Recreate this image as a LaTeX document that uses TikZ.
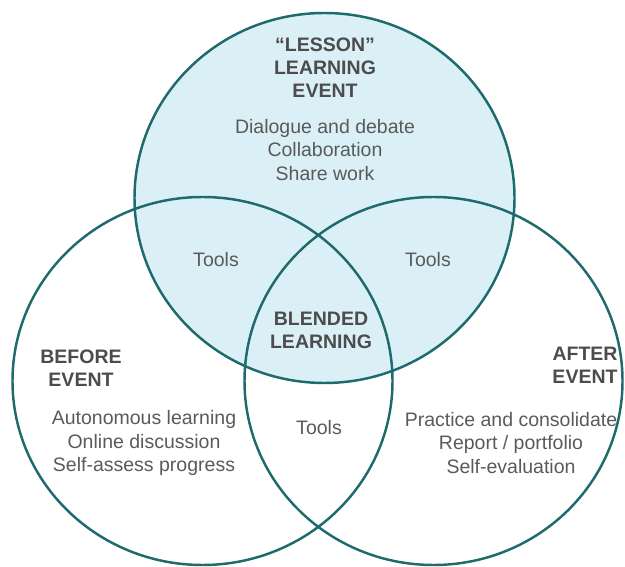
\documentclass[tikz,border=0pt]{standalone}
\usepackage{fontspec}
\setmainfont{Liberation Sans}
\definecolor{ringteal}{HTML}{1E6A6C}
\definecolor{lessonblue}{HTML}{DAF0F6}
\definecolor{labelgray}{HTML}{5A5A5A}
\begin{document}
\begin{tikzpicture}[
    x=0.02cm, y=-0.02cm,
    ring/.style={draw=ringteal, line width=1.4pt},
    every node/.style={font=\fontsize{11.1}{13.5}\selectfont, text=labelgray, align=center, inner sep=0pt},
    head/.style={font=\fontsize{11.1}{13.2}\selectfont\bfseries, text=labelgray!85!black}]

    \useasboundingbox (0,0) rectangle (625,567);

    \fill[lessonblue] (324.5,198) ellipse [x radius=190, y radius=185];
    \draw[ring] (324.5,198) ellipse [x radius=190, y radius=185];
    \draw[ring] (202.5,381) ellipse [x radius=190, y radius=184];
    \draw[ring] (433.5,381) ellipse [x radius=189, y radius=184];

    \node[head] (lessonhead) at (325,68) {“LESSON”\\LEARNING\\EVENT};
    \node (lessonlist) at (325,150) {Dialogue and debate\\Collaboration\\Share work};
    \node (toolsleft) at (216,260) {Tools};
    \node (toolsright) at (428,260) {Tools};
    \node[head] (blended) at (321,330) {BLENDED\\LEARNING};
    \node[head] (beforehead) at (81,368) {BEFORE\\EVENT};
    \node (beforelist) at (144,443) {Autonomous learning\\Online discussion\\Self-assess progress};
    \node (toolsbottom) at (319,428) {Tools};
    \node[head] (afterhead) at (585,365) {AFTER\\EVENT};
    \node (afterlist) at (511,443) {Practice and consolidate\\Report / portfolio\\Self-evaluation};
\end{tikzpicture}
\end{document}
